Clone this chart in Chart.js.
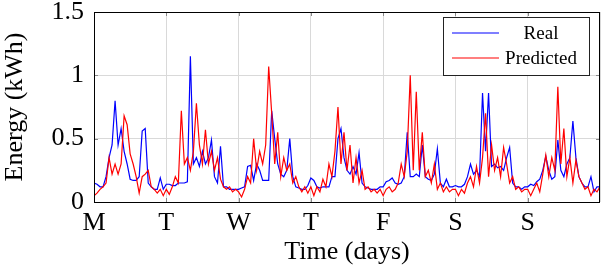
<!DOCTYPE html>
<html>
<head>
<meta charset="utf-8">
<script src="https://cdn.jsdelivr.net/npm/chart.js@4.4.1/dist/chart.umd.min.js"></script>
<style>
  html, body { margin: 0; padding: 0; background: #fff; }
  #wrap { width: 602px; height: 266px; position: relative; }
</style>
</head>
<body>
<div id="wrap"><canvas id="energy"></canvas></div>
<script>
// hourly samples, one row per day (Mon..Sun), last value closes the week
const dayLabels = ['M', 'T', 'W', 'T', 'F', 'S', 'S'];
const yTickStep = 0.5;

const realKwh = [
  0.15,0.14,0.12,0.12,0.2,0.35,0.45,0.8,0.45,0.58,0.4,0.3,0.18,0.17,0.17,0.2,0.56,0.58,0.15,0.12,0.1,0.1,0.19,0.1,
  0.14,0.14,0.13,0.13,0.15,0.15,0.15,0.16,1.15,0.3,0.35,0.28,0.4,0.3,0.35,0.49,0.2,0.15,0.44,0.12,0.12,0.1,0.1,0.1,
  0.1,0.11,0.12,0.28,0.29,0.17,0.3,0.25,0.17,0.17,0.17,0.72,0.5,0.3,0.22,0.2,0.25,0.5,0.2,0.12,0.11,0.1,0.1,0.13,
  0.19,0.17,0.12,0.11,0.12,0.12,0.12,0.2,0.2,0.5,0.58,0.35,0.25,0.22,0.28,0.22,0.39,0.15,0.12,0.11,0.1,0.1,0.1,0.12,
  0.12,0.16,0.17,0.19,0.15,0.14,0.15,0.2,0.55,0.2,0.2,0.22,0.2,0.45,0.2,0.18,0.17,0.22,0.42,0.15,0.12,0.18,0.12,0.12,
  0.13,0.12,0.12,0.14,0.2,0.3,0.22,0.25,0.2,0.86,0.4,0.86,0.28,0.3,0.27,0.28,0.25,0.35,0.43,0.15,0.12,0.12,0.1,0.12,
  0.12,0.14,0.13,0.16,0.18,0.25,0.36,0.25,0.18,0.2,0.49,0.25,0.2,0.3,0.35,0.64,0.35,0.2,0.15,0.12,0.12,0.2,0.08,0.12,
  0.12
];

const predictedKwh = [
  0.05,0.07,0.1,0.12,0.15,0.35,0.22,0.3,0.22,0.3,0.68,0.61,0.38,0.3,0.2,0.07,0.2,0.22,0.25,0.12,0.1,0.07,0.1,0.05,
  0.1,0.06,0.12,0.2,0.15,0.72,0.3,0.35,0.25,0.4,0.78,0.45,0.3,0.57,0.3,0.4,0.25,0.35,0.18,0.12,0.1,0.12,0.08,0.1,
  0.08,0.04,0.1,0.2,0.15,0.5,0.25,0.4,0.3,0.45,1.07,0.7,0.3,0.55,0.2,0.35,0.25,0.3,0.15,0.2,0.12,0.08,0.12,0.07,
  0.12,0.05,0.12,0.08,0.18,0.12,0.3,0.2,0.4,0.75,0.3,0.55,0.25,0.45,0.15,0.35,0.15,0.25,0.1,0.12,0.08,0.1,0.07,0.1,
  0.05,0.1,0.12,0.08,0.1,0.15,0.3,0.2,0.4,1.0,0.25,0.87,0.25,0.55,0.2,0.25,0.15,0.3,0.1,0.15,0.08,0.12,0.08,0.1,
  0.1,0.05,0.1,0.07,0.15,0.2,0.12,0.28,0.15,0.35,0.7,0.2,0.45,0.25,0.35,0.2,0.43,0.3,0.15,0.2,0.1,0.12,0.08,0.1,
  0.1,0.05,0.1,0.15,0.08,0.22,0.37,0.2,0.35,0.25,0.91,0.3,0.58,0.2,0.35,0.15,0.33,0.2,0.15,0.1,0.12,0.05,0.1,0.08,
  0.12
];

const serif = "'Liberation Serif', 'Times New Roman', serif";
const toPoints = arr => arr.map((v, i) => ({ x: i / 24, y: v }));

// box frame, inward tick marks and the legend box (pgfplots look)
const framePlugin = {
  id: 'frame',
  afterDatasetsDraw(chart) {
    const { ctx, chartArea: a, scales } = chart;
    ctx.save();
    ctx.strokeStyle = '#888';
    ctx.lineWidth = 1;
    ctx.beginPath();
    for (let d = 1; d < dayLabels.length; d++) {
      const px = Math.round(scales.x.getPixelForValue(d)) + 0.5;
      ctx.moveTo(px, a.bottom); ctx.lineTo(px, a.bottom - 4);
      ctx.moveTo(px, a.top); ctx.lineTo(px, a.top + 4);
    }
    for (let v = yTickStep; v < 1.5; v += yTickStep) {
      const py = Math.round(scales.y.getPixelForValue(v)) + 0.5;
      ctx.moveTo(a.left, py); ctx.lineTo(a.left + 4, py);
      ctx.moveTo(a.right, py); ctx.lineTo(a.right - 4, py);
    }
    ctx.stroke();

    ctx.strokeStyle = '#000';
    ctx.strokeRect(Math.round(a.left) + 0.5, Math.round(a.top) + 0.5,
                   Math.round(a.right - a.left) - 1, Math.round(a.bottom - a.top));

    // legend
    const bx = a.right - 157, by = a.top + 5, bw = 146, bh = 58;
    ctx.fillStyle = '#fff';
    ctx.fillRect(bx, by, bw, bh);
    ctx.strokeStyle = '#222';
    ctx.strokeRect(bx + 0.5, by + 0.5, bw, bh);
    ctx.font = '19px ' + serif;
    ctx.textAlign = 'center';
    ctx.textBaseline = 'middle';
    chart.data.datasets.forEach((ds, i) => {
      const ly = by + 16 + i * 25;
      ctx.strokeStyle = ds.borderColor;
      ctx.lineWidth = 1.2;
      ctx.beginPath();
      ctx.moveTo(bx + 9, ly); ctx.lineTo(bx + 56, ly);
      ctx.stroke();
      ctx.fillStyle = '#000';
      ctx.fillText(ds.label, bx + 98, ly + 1);
    });
    ctx.restore();
  }
};

new Chart(document.getElementById('energy'), {
  type: 'line',
  data: {
    datasets: [
      { label: 'Real', data: toPoints(realKwh), borderColor: '#0000ff', borderWidth: 1.2,
        pointRadius: 0, tension: 0, order: 2 },
      { label: 'Predicted', data: toPoints(predictedKwh), borderColor: '#ff0000', borderWidth: 1.2,
        pointRadius: 0, tension: 0, order: 1 }
    ]
  },
  options: {
    responsive: true,
    maintainAspectRatio: false,
    animation: false,
    layout: { padding: { top: 12, right: 2, left: 0, bottom: 0 } },
    plugins: { legend: { display: false }, tooltip: { enabled: false } },
    scales: {
      x: {
        type: 'linear', min: 0, max: 7,
        border: { display: false },
        grid: { color: '#d9d9d9', drawTicks: false },
        ticks: {
          stepSize: 1, autoSkip: false, maxRotation: 0, padding: 6,
          color: '#000', font: { family: serif, size: 26 },
          callback: v => dayLabels[v] ?? ''
        },
        title: { display: true, text: 'Time (days)', color: '#000', padding: { top: 0, bottom: -2 },
                 font: { family: serif, size: 26 } },
        afterFit(s) { s.height = 64; s.paddingLeft = 0; s.paddingRight = 0; }
      },
      y: {
        min: 0, max: 1.5,
        border: { display: false },
        grid: { color: '#d9d9d9', drawTicks: false },
        ticks: {
          stepSize: yTickStep, padding: 10,
          color: '#000', font: { family: serif, size: 26 },
          callback: v => String(v)
        },
        title: { display: true, text: 'Energy (kWh)', color: '#000', padding: 0,
                 font: { family: serif, size: 26 } },
        afterFit(s) { s.width = 94; s.paddingTop = 0; s.paddingBottom = 0; }
      }
    }
  },
  plugins: [framePlugin]
});
</script>
</body>
</html>
